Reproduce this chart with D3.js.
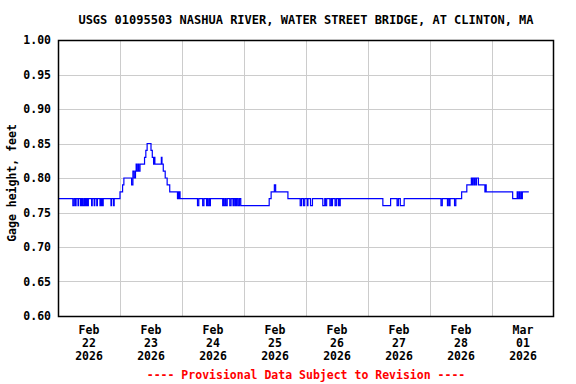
<!DOCTYPE html>
<html>
<head>
<meta charset="utf-8">
<script src="https://cdn.jsdelivr.net/npm/d3@7"></script>
<style>
  body { margin: 0; background: #fff; }
  svg text { font-family: "DejaVu Sans Mono", monospace; font-weight: bold; }
</style>
</head>
<body>
<div id="chart"></div>
<script>
// gage readings as step change points: hours after Feb 22 2026 00:00, value in feet
var changeHours = [
	0, 5.75, 6.25, 6.75, 7.0, 7.75, 8.0, 8.75, 9.0, 9.25, 9.5, 9.75, 10.25, 10.5, 10.75, 11.0, 11.25, 11.5, 11.75,
	13.0, 13.25, 14.0, 14.25, 15.0, 15.25, 16.25, 16.5, 16.75, 17.0, 17.25, 17.5, 20.5, 20.75, 21.5, 21.75,
	24.0, 25.0, 25.5, 28.5, 29.0, 29.5, 30.0, 30.25, 30.5, 31.0, 31.25, 31.75, 33.5, 34.0, 34.5, 36.0, 36.5,
	37.0, 37.25, 37.5, 40.0, 40.25, 40.75, 41.5, 42.25, 43.25, 46.25, 46.5, 46.75, 47.0, 47.25,
	54.0, 54.5, 56.0, 56.5, 57.5, 57.75, 58.0, 58.5, 58.75, 59.0,
	63.75, 64.0, 64.25, 64.75, 65.0, 65.5, 66.5, 67.0, 67.75, 68.0, 68.5, 68.75, 69.0, 69.25, 69.75, 70.25, 70.75,
	81.75, 82.5, 83.75, 84.25, 89.0,
	93.75, 94.25, 95.0, 95.5, 96.5, 96.75, 97.75, 98.5,
	102.5, 103.25, 103.5, 104.0, 105.25, 105.75, 106.0, 106.25, 107.25, 107.75, 108.5, 108.75, 109.0, 109.25,
	125.75, 128.75, 131.25, 131.75, 132.5, 134.0,
	148.25, 148.75, 150.75, 151.0, 151.5, 151.75, 153.5, 154.0,
	156.25, 158.25, 160.0, 160.25, 160.5, 161.0, 161.25, 161.75, 162.0, 162.75, 165.25, 165.5, 165.75,
	176.0, 177.75, 178.0, 178.5, 178.75, 179.25, 179.5, 179.75, 182.25
];
var changeValues = [
	0.77, 0.76, 0.77, 0.76, 0.77, 0.76, 0.77, 0.76, 0.77, 0.76, 0.77, 0.76, 0.77, 0.76, 0.77, 0.76, 0.77, 0.76, 0.77,
	0.76, 0.77, 0.76, 0.77, 0.76, 0.77, 0.76, 0.77, 0.76, 0.77, 0.76, 0.77, 0.76, 0.77, 0.76, 0.77,
	0.78, 0.79, 0.80, 0.79, 0.81, 0.80, 0.81, 0.82, 0.81, 0.82, 0.81, 0.82, 0.83, 0.84, 0.85, 0.84, 0.83,
	0.82, 0.83, 0.82, 0.83, 0.82, 0.81, 0.80, 0.79, 0.78, 0.77, 0.78, 0.77, 0.78, 0.77,
	0.76, 0.77, 0.76, 0.77, 0.76, 0.77, 0.76, 0.77, 0.76, 0.77,
	0.76, 0.77, 0.76, 0.77, 0.76, 0.77, 0.76, 0.77, 0.76, 0.77, 0.76, 0.77, 0.76, 0.77, 0.76, 0.77, 0.76,
	0.77, 0.78, 0.79, 0.78, 0.77,
	0.76, 0.77, 0.76, 0.77, 0.76, 0.77, 0.76, 0.77,
	0.76, 0.77, 0.76, 0.77, 0.76, 0.77, 0.76, 0.77, 0.76, 0.77, 0.76, 0.77, 0.76, 0.77,
	0.76, 0.77, 0.76, 0.77, 0.76, 0.77,
	0.76, 0.77, 0.76, 0.77, 0.76, 0.77, 0.76, 0.77,
	0.78, 0.79, 0.80, 0.79, 0.80, 0.79, 0.80, 0.79, 0.80, 0.79, 0.78, 0.79, 0.78,
	0.77, 0.78, 0.77, 0.78, 0.77, 0.78, 0.77, 0.78, 0.78
];
var yTicks = [0.60, 0.65, 0.70, 0.75, 0.80, 0.85, 0.90, 0.95, 1.00];
var titleText = "USGS 01095503 NASHUA RIVER, WATER STREET BRIDGE, AT CLINTON, MA";
var yLabel = "Gage height, feet";
var footerText = "---- Provisional Data Subject to Revision ----";

var startDate = new Date(2026, 1, 22);
var endDate = new Date(2026, 2, 2);

var width = 576, height = 384;
var margin = { top: 40, right: 22, bottom: 68, left: 58 };

var svg = d3.select("#chart").append("svg")
	.attr("width", width)
	.attr("height", height);

var x = d3.scaleTime()
	.domain([startDate, endDate])
	.range([margin.left, width - margin.right]);

var y = d3.scaleLinear()
	.domain([0.60, 1.00])
	.range([height - margin.bottom, margin.top]);

var data = changeHours.map(function(h, i) {
	return { date: d3.timeMinute.offset(startDate, Math.round(h * 60)), value: changeValues[i] };
});

// grid
var grid = svg.append("g").attr("class", "grid");
grid.selectAll(".hgrid")
	.data(yTicks.slice(1, -1))
	.enter().append("line")
	.attr("x1", margin.left).attr("x2", width - margin.right)
	.attr("y1", function(d) { return Math.round(y(d)) + 0.5; })
	.attr("y2", function(d) { return Math.round(y(d)) + 0.5; })
	.attr("stroke", "#cccccc").attr("stroke-width", 1);

var days = d3.timeDay.range(d3.timeDay.offset(startDate, 1), endDate);
grid.selectAll(".vgrid")
	.data(days)
	.enter().append("line")
	.attr("y1", margin.top).attr("y2", height - margin.bottom)
	.attr("x1", function(d) { return Math.round(x(d)) + 0.5; })
	.attr("x2", function(d) { return Math.round(x(d)) + 0.5; })
	.attr("stroke", "#cccccc").attr("stroke-width", 1);

// data line
var line = d3.line()
	.x(function(d) { return x(d.date); })
	.y(function(d) { return y(d.value); })
	.curve(d3.curveStepAfter);

svg.append("path")
	.datum(data)
	.attr("d", line)
	.attr("fill", "none")
	.attr("stroke", "#0000ff")
	.attr("stroke-width", 1.2);

// frame
svg.append("rect")
	.attr("x", margin.left + 0.5).attr("y", margin.top + 0.5)
	.attr("width", width - margin.left - margin.right - 1)
	.attr("height", height - margin.top - margin.bottom)
	.attr("fill", "none").attr("stroke", "#000").attr("stroke-width", 1.5);

// y labels
svg.selectAll(".ylab")
	.data(yTicks)
	.enter().append("text")
	.attr("x", 51)
	.attr("y", function(d) { return y(d) + 4; })
	.attr("text-anchor", "end")
	.style("font-size", "11.5px")
	.text(d3.format(".2f"));

// x labels at noon
var xl = svg.selectAll(".xlab")
	.data(d3.timeDay.range(startDate, endDate))
	.enter().append("text")
	.attr("text-anchor", "middle")
	.style("font-size", "11.5px")
	.attr("transform", function(d) { return "translate(" + x(d3.timeHour.offset(d, 12)) + ",0)"; });
xl.append("tspan").attr("x", 0).attr("y", 334).text(d3.timeFormat("%b"));
xl.append("tspan").attr("x", 0).attr("y", 347).text(d3.timeFormat("%d"));
xl.append("tspan").attr("x", 0).attr("y", 360).text(d3.timeFormat("%Y"));

svg.append("text")
	.attr("x", (margin.left + width - margin.right) / 2)
	.attr("y", 24)
	.attr("text-anchor", "middle")
	.style("font-size", "12px")
	.text(titleText);

svg.append("text")
	.attr("transform", "translate(16,183) rotate(-90)")
	.attr("text-anchor", "middle")
	.style("font-size", "11.5px")
	.text(yLabel);

svg.append("text")
	.attr("x", (margin.left + width - margin.right) / 2)
	.attr("y", 379)
	.attr("text-anchor", "middle")
	.attr("fill", "#ff0000")
	.style("font-size", "11.5px")
	.text(footerText);
</script>
</body>
</html>
